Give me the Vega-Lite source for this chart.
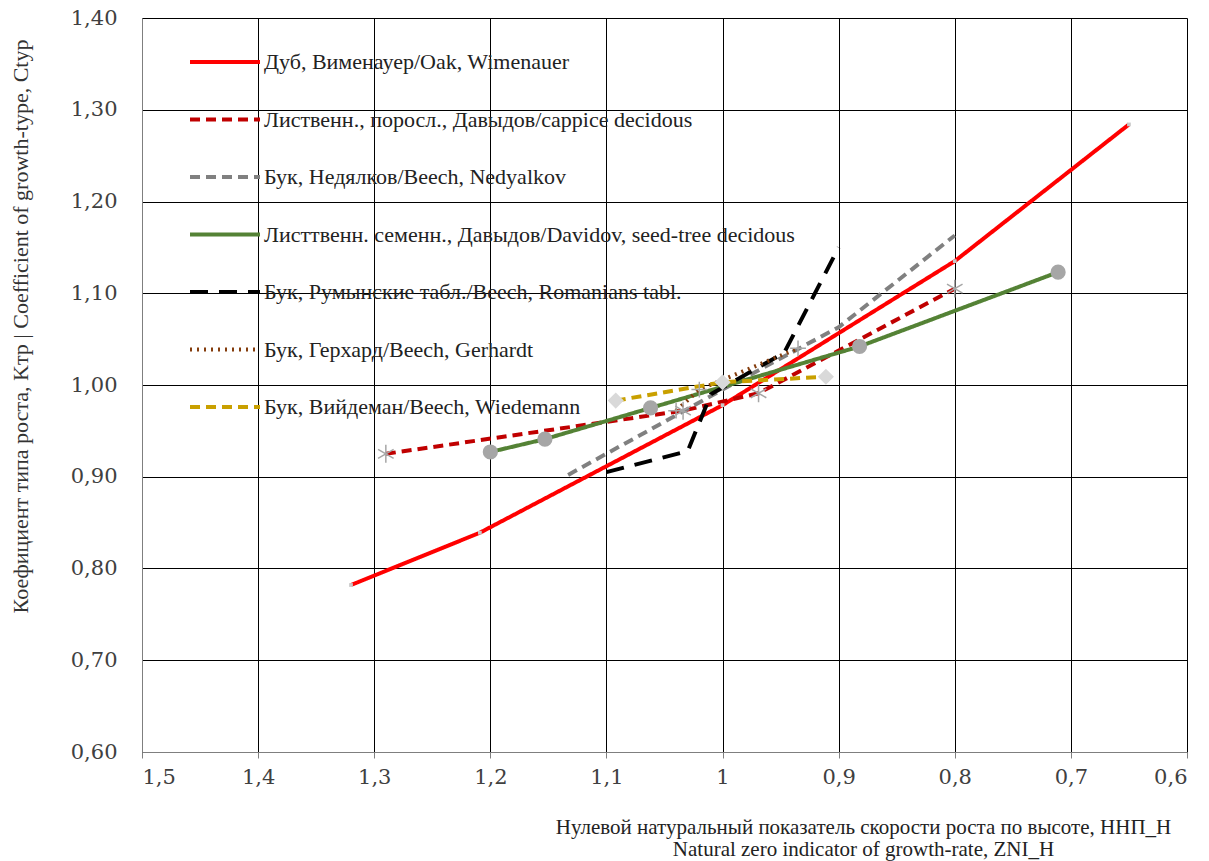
{
  "$schema": "https://vega.github.io/schema/vega-lite/v6.json",
  "width": 1045,
  "height": 734,
  "autosize": "none",
  "padding": {"left": 142, "top": 18, "right": 22, "bottom": 109},
  "background": "white",
  "config": {
    "view": {"stroke": null},
    "font": "Liberation Serif, Times New Roman, serif"
  },
  "datasets": {
    "lines": [
      {"s": "Дуб, Вименауер/Oak, Wimenauer", "x": 1.32, "y": 0.782},
      {"s": "Дуб, Вименауер/Oak, Wimenauer", "x": 1.209, "y": 0.839},
      {"s": "Дуб, Вименауер/Oak, Wimenauer", "x": 1.0, "y": 0.978},
      {"s": "Дуб, Вименауер/Oak, Wimenauer", "x": 0.8, "y": 1.135},
      {"s": "Дуб, Вименауер/Oak, Wimenauer", "x": 0.65, "y": 1.284},
      {"s": "Лиственн., поросл., Давыдов/cappice decidous", "x": 1.29, "y": 0.925},
      {"s": "Лиственн., поросл., Давыдов/cappice decidous", "x": 1.034, "y": 0.972},
      {"s": "Лиственн., поросл., Давыдов/cappice decidous", "x": 0.969, "y": 0.991},
      {"s": "Лиственн., поросл., Давыдов/cappice decidous", "x": 0.8, "y": 1.105},
      {"s": "Бук, Недялков/Beech, Nedyalkov", "x": 1.133, "y": 0.902},
      {"s": "Бук, Недялков/Beech, Nedyalkov", "x": 1.0, "y": 0.995},
      {"s": "Бук, Недялков/Beech, Nedyalkov", "x": 0.9, "y": 1.063},
      {"s": "Бук, Недялков/Beech, Nedyalkov", "x": 0.8, "y": 1.163},
      {"s": "Листтвенн. семенн., Давыдов/Davidov, seed-tree decidous", "x": 1.2, "y": 0.927},
      {"s": "Листтвенн. семенн., Давыдов/Davidov, seed-tree decidous", "x": 1.153, "y": 0.941},
      {"s": "Листтвенн. семенн., Давыдов/Davidov, seed-tree decidous", "x": 1.062, "y": 0.975},
      {"s": "Листтвенн. семенн., Давыдов/Davidov, seed-tree decidous", "x": 0.882, "y": 1.042},
      {"s": "Листтвенн. семенн., Давыдов/Davidov, seed-tree decidous", "x": 0.711, "y": 1.123},
      {"s": "Бук, Румынские табл./Beech, Romanians tabl.", "x": 1.1, "y": 0.905},
      {"s": "Бук, Румынские табл./Beech, Romanians tabl.", "x": 1.03, "y": 0.928},
      {"s": "Бук, Румынские табл./Beech, Romanians tabl.", "x": 1.01, "y": 0.99},
      {"s": "Бук, Румынские табл./Beech, Romanians tabl.", "x": 0.947, "y": 1.035},
      {"s": "Бук, Румынские табл./Beech, Romanians tabl.", "x": 0.9, "y": 1.15},
      {"s": "Бук, Герхард/Beech, Gerhardt", "x": 1.04, "y": 0.972},
      {"s": "Бук, Герхард/Beech, Gerhardt", "x": 1.02, "y": 0.995},
      {"s": "Бук, Герхард/Beech, Gerhardt", "x": 0.935, "y": 1.04},
      {"s": "Бук, Вийдеман/Beech, Wiedemann", "x": 1.092, "y": 0.983},
      {"s": "Бук, Вийдеман/Beech, Wiedemann", "x": 1.0, "y": 1.003},
      {"s": "Бук, Вийдеман/Beech, Wiedemann", "x": 0.911, "y": 1.009}
    ]
  },
  "data": {"name": "lines"},
  "encoding": {
    "x": {
      "field": "x", "type": "quantitative",
      "scale": {"domain": [0.6, 1.5], "reverse": true, "nice": false, "zero": false},
      "axis": {
        "values": [1.5, 1.4, 1.3, 1.2, 1.1, 1.0, 0.9, 0.8, 0.7, 0.6],
        "labelExpr": "replace(format(datum.value, '~g'), '.', ',')",
        "labelFont": "DejaVu Serif, serif", "labelFontSize": 21, "labelColor": "#404040",
        "labelPadding": 8, "tickSize": 6, "tickColor": "#7f7f7f",
        "domainColor": "#7f7f7f", "domainWidth": 1,
        "grid": true, "gridColor": "#000000", "gridWidth": 1,
        "title": ["Нулевой натуральный показатель скорости роста по высоте, ННП_Н", "Natural zero indicator of growth-rate, ZNI_H"],
        "titleFont": "Liberation Serif, Times New Roman, serif", "titleFontSize": 21, "titleFontWeight": "normal", "titleColor": "#222222",
        "titleX": 721, "titleY": 64, "titleAlign": "center", "titleBaseline": "top", "titleLineHeight": 22, "titleAnchor": null
      }
    },
    "y": {
      "field": "y", "type": "quantitative",
      "scale": {"domain": [0.6, 1.4], "nice": false, "zero": false},
      "axis": {
        "values": [0.6, 0.7, 0.8, 0.9, 1.0, 1.1, 1.2, 1.3, 1.4],
        "labelExpr": "replace(format(datum.value, '.2f'), '.', ',')",
        "labelFont": "DejaVu Serif, serif", "labelFontSize": 21, "labelColor": "#404040",
        "labelPadding": 25, "ticks": false,
        "domainColor": "#7f7f7f", "domainWidth": 1,
        "grid": true, "gridColor": "#000000", "gridWidth": 1,
        "title": "Коефициент типа роста, Kтр | Coefficient of growth-type, Ctyp",
        "titleFont": "Liberation Serif, Times New Roman, serif", "titleFontSize": 22, "titleFontWeight": "normal", "titleColor": "#333333",
        "titleX": -122, "titleY": 308, "titleAngle": -90, "titleAlign": "center", "titleBaseline": "middle"
      }
    }
  },
  "layer": [
    {
      "mark": {"type": "line", "strokeWidth": 4},
      "encoding": {
        "color": {
          "field": "s", "type": "nominal",
          "scale": {
            "domain": ["Дуб, Вименауер/Oak, Wimenauer", "Лиственн., поросл., Давыдов/cappice decidous", "Бук, Недялков/Beech, Nedyalkov", "Листтвенн. семенн., Давыдов/Davidov, seed-tree decidous", "Бук, Румынские табл./Beech, Romanians tabl.", "Бук, Герхард/Beech, Gerhardt", "Бук, Вийдеман/Beech, Wiedemann"],
            "range": ["#ff0000", "#c00000", "#808080", "#548235", "#000000", "#843c0c", "#c9a000"]
          },
          "legend": {
            "orient": "none", "legendX": 46, "legendY": 7, "title": null,
            "symbolType": "stroke", "symbolSize": 4900, "symbolStrokeWidth": 4,
            "labelFont": "Liberation Serif, Times New Roman, serif", "labelFontSize": 22, "labelColor": "#222222",
            "labelOffset": 2, "rowPadding": 9.5, "labelLimit": 800
          }
        },
        "strokeDash": {
          "field": "s", "type": "nominal",
          "scale": {
            "domain": ["Дуб, Вименауер/Oak, Wimenauer", "Лиственн., поросл., Давыдов/cappice decidous", "Бук, Недялков/Beech, Nedyalkov", "Листтвенн. семенн., Давыдов/Davidov, seed-tree decidous", "Бук, Румынские табл./Beech, Romanians tabl.", "Бук, Герхард/Beech, Gerhardt", "Бук, Вийдеман/Beech, Wiedemann"],
            "range": [[1, 0], [10, 6], [10, 6], [1, 0], [18, 11], [2, 5], [10, 6]]
          }
        }
      }
    },
    {
      "transform": [{"filter": "datum.s === 'Дуб, Вименауер/Oak, Wimenauer'"}],
      "mark": {"type": "point", "shape": "square", "filled": true, "color": "#c8c8c8", "size": 14, "opacity": 1}
    },
    {
      "transform": [{"filter": "datum.s === 'Лиственн., поросл., Давыдов/cappice decidous'"}],
      "mark": {"type": "point", "shape": "M0,-1L0,1M-0.87,-0.5L0.87,0.5M-0.87,0.5L0.87,-0.5", "filled": false, "color": "#a6a6a6", "strokeWidth": 1.5, "size": 320, "opacity": 1}
    },
    {
      "transform": [{"filter": "datum.s === 'Листтвенн. семенн., Давыдов/Davidov, seed-tree decidous'"}],
      "mark": {"type": "point", "shape": "circle", "filled": true, "color": "#a6a6a6", "size": 230, "opacity": 1}
    },
    {
      "transform": [{"filter": "datum.s === 'Бук, Герхард/Beech, Gerhardt'"}],
      "mark": {"type": "point", "shape": "M-1,0L1,0M0,-1L0,1", "filled": false, "color": "#a6a6a6", "strokeWidth": 1.5, "size": 250, "opacity": 1}
    },
    {
      "transform": [{"filter": "datum.s === 'Бук, Вийдеман/Beech, Wiedemann'"}],
      "mark": {"type": "point", "shape": "diamond", "filled": true, "color": "#d9d9d9", "size": 260, "opacity": 1}
    }
  ]
}
